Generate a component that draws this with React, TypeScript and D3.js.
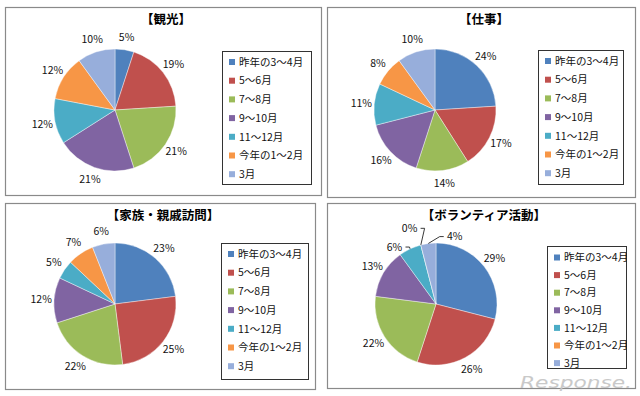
import React from "react";
import * as d3 from "d3";

const categories = ["昨年の3～4月", "5～6月", "7～8月", "9～10月", "11～12月", "今年の1～2月", "3月"];
const colors = ["#4F81BD", "#C0504D", "#9BBB59", "#8064A2", "#4BACC6", "#F79646", "#97AEDB"];

const titles = ["【観光】", "【仕事】", "【家族・親戚訪問】", "【ボランティア活動】"];
const kankou = [5, 19, 21, 21, 12, 12, 10];
const shigoto = [24, 17, 14, 16, 11, 8, 10];
const kazoku = [23, 25, 22, 12, 5, 7, 6];
const volunteer = [29, 26, 22, 13, 6, 0, 4];
const seriesList = [kankou, shigoto, kazoku, volunteer];

// label displacement for crowded labels (panel 4), in px, with leader lines
const labelShift: Record<string, [number, number]> = {
  "3-4": [-10, 10],
  "3-5": [-8, -4],
  "3-6": [28, 6],
};

const panels = [
  { x: 5, y: 7, w: 316, h: 188, cx: 115, cy: 110, lx: 222, ly: 51, lw: 89, lh: 133, step: 18.7, f: 11 },
  { x: 327, y: 7, w: 308, h: 190, cx: 435, cy: 110, lx: 538, ly: 50, lw: 85, lh: 134, step: 18.7, f: 11 },
  { x: 5, y: 203, w: 310, h: 186, cx: 115, cy: 304, lx: 221, ly: 243, lw: 87, lh: 136, step: 18.7, f: 11 },
  { x: 327, y: 203, w: 308, h: 185, cx: 436, cy: 304, lx: 547, ly: 246, lw: 79, lh: 122, step: 17.6, f: 11.5 },
];

const R = 61;
const LR = 74;
const font = "'Noto Sans CJK JP', 'Noto Sans', sans-serif";

function Panel({ idx }: { idx: number }) {
  const p = panels[idx];
  const values = seriesList[idx];
  const pie = d3.pie<number>().sort(null).value((d) => d)(values);
  const arc = d3.arc<d3.PieArcDatum<number>>().innerRadius(0).outerRadius(R);
  return (
    <g>
      <rect x={p.x + 0.5} y={p.y + 0.5} width={p.w} height={p.h} fill="#fff" stroke="#8a8a8a" strokeWidth={1.2} />
      <text x={p.x + p.w / 2 + 3} y={p.y + 17} textAnchor="middle" fontFamily={font} fontWeight="bold" fontSize={12.5} fill="#000">
        {titles[idx]}
      </text>
      <g transform={`translate(${p.cx},${p.cy})`}>
        {pie.map((s, i) => (
          <path key={i} d={arc(s) || ""} fill={colors[i]} stroke="#fff" strokeWidth={0.4} />
        ))}
        {pie.map((s, i) => {
          const a = (s.startAngle + s.endAngle) / 2;
          const sh = labelShift[`${idx}-${i}`];
          let x = Math.sin(a) * LR;
          let y = -Math.cos(a) * LR;
          let leader = null;
          if (sh) {
            x += sh[0];
            y += sh[1];
            const ex = Math.sin(a) * R;
            const ey = -Math.cos(a) * R;
            const w = 11;
            const attachX = sh[0] > 0 ? x - w : x + w;
            leader = (
              <polyline
                points={`${attachX},${y} ${attachX + (sh[0] > 0 ? -4 : 4)},${y} ${ex},${ey}`}
                fill="none"
                stroke="#222"
                strokeWidth={0.9}
              />
            );
          }
          return (
            <g key={"l" + i}>
              {leader}
              <text x={x} y={y} dy="0.35em" textAnchor="middle" fontFamily={font} fontSize={10.5} fill="#111">
                {values[i]}%
              </text>
            </g>
          );
        })}
      </g>
      <rect x={p.lx + 0.5} y={p.ly + 0.5} width={p.lw} height={p.lh} fill="#fff" stroke="#333" strokeWidth={1} />
      {categories.map((c, i) => {
        const yy = p.ly + p.f + i * p.step;
        return (
          <g key={c}>
            <rect x={p.lx + 7} y={yy - 3} width={6} height={6} fill={colors[i]} />
            <text x={p.lx + 17} y={yy} dy="0.36em" fontFamily={font} fontSize={10.5} fill="#111">
              {c}
            </text>
          </g>
        );
      })}
    </g>
  );
}

export default function App() {
  return (
    <svg width={640} height={396} style={{ position: "absolute", left: 0, top: 0, background: "#fff" }}>
      <rect x={0} y={0} width={640} height={396} fill="#fff" />
      {panels.map((_, i) => (
        <Panel key={i} idx={i} />
      ))}
      <text x={520} y={388} textLength={112} lengthAdjust="spacingAndGlyphs" fontFamily="'DejaVu Sans', sans-serif" fontSize={16} fontStyle="italic" fill="#c4c4c4" opacity={0.9}>
        Response.
      </text>
    </svg>
  );
}
